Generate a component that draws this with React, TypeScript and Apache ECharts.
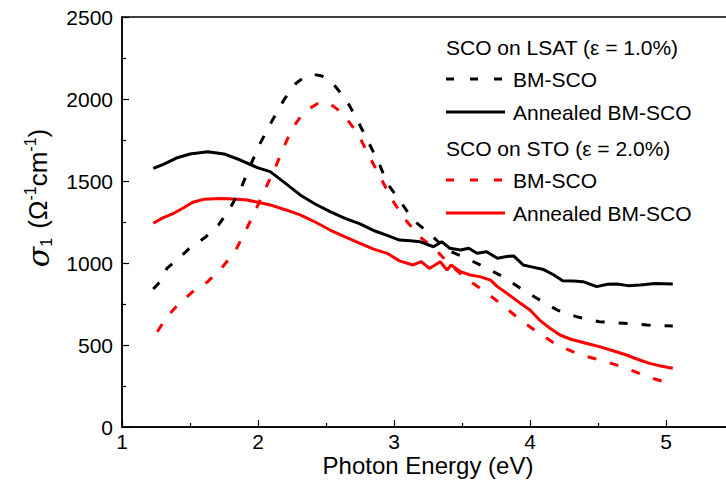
import React, { useEffect, useRef } from "react";
import * as echarts from "echarts";

// Photon energy (eV) / sigma_1 (Ω^-1 cm^-1) pairs
const lsatBm: number[][] = [
  [1.23, 841], [1.29, 896], [1.33, 967], [1.41, 1023], [1.49, 1085], [1.61, 1155],
  [1.71, 1232], [1.79, 1328], [1.87, 1445], [1.94, 1587], [2.01, 1720], [2.10, 1862],
  [2.19, 1994], [2.28, 2096], [2.35, 2140], [2.41, 2150], [2.47, 2140], [2.54, 2106],
  [2.65, 1994], [2.73, 1872], [2.81, 1740], [2.89, 1608], [2.95, 1486], [3.04, 1384],
  [3.14, 1262], [3.26, 1181], [3.39, 1079], [3.53, 1030], [3.66, 977], [3.80, 917],
  [3.93, 846], [4.05, 785], [4.20, 713], [4.34, 673], [4.51, 642], [4.69, 632],
  [4.86, 622], [5.05, 616],
];

const lsatAnnealed: number[][] = [
  [1.23, 1577], [1.30, 1600], [1.40, 1640], [1.50, 1665], [1.63, 1679], [1.75, 1665],
  [1.87, 1628], [2.00, 1580], [2.09, 1557], [2.20, 1487], [2.31, 1415], [2.42, 1360],
  [2.53, 1313], [2.64, 1272], [2.75, 1238], [2.86, 1195], [2.95, 1168], [3.04, 1140],
  [3.12, 1135], [3.19, 1130], [3.29, 1099], [3.35, 1130], [3.41, 1090], [3.49, 1079],
  [3.55, 1090], [3.61, 1059], [3.68, 1069], [3.76, 1029], [3.83, 1040], [3.88, 1043],
  [3.95, 988], [4.02, 975], [4.10, 960], [4.17, 930], [4.24, 892], [4.32, 890],
  [4.39, 886], [4.49, 856], [4.57, 870], [4.64, 872], [4.72, 862], [4.81, 866],
  [4.92, 875], [5.05, 872],
];

const stoBm: number[][] = [
  [1.26, 581], [1.33, 672], [1.41, 744], [1.52, 825], [1.63, 886], [1.73, 967],
  [1.83, 1069], [1.90, 1181], [1.98, 1318], [2.05, 1445], [2.13, 1587], [2.19, 1709],
  [2.26, 1831], [2.32, 1900], [2.38, 1943], [2.44, 1973], [2.52, 1977], [2.58, 1940],
  [2.65, 1882], [2.74, 1780], [2.82, 1648], [2.91, 1506], [2.98, 1394], [3.08, 1267],
  [3.19, 1160], [3.31, 1079], [3.40, 998], [3.53, 906], [3.66, 830], [3.79, 749],
  [3.93, 652], [4.05, 581], [4.20, 500], [4.37, 439], [4.54, 404], [4.71, 358],
  [4.88, 301], [5.05, 262],
];

const stoAnnealed: number[][] = [
  [1.23, 1242], [1.30, 1275], [1.38, 1303], [1.45, 1335], [1.52, 1370], [1.60, 1388],
  [1.72, 1394], [1.82, 1390], [1.92, 1384], [2.00, 1370], [2.09, 1354], [2.20, 1325],
  [2.31, 1293], [2.42, 1250], [2.53, 1201], [2.64, 1160], [2.75, 1120], [2.85, 1085],
  [2.95, 1059], [3.04, 1013], [3.14, 988], [3.20, 1008], [3.26, 967], [3.34, 1008],
  [3.39, 957], [3.42, 988], [3.49, 947], [3.56, 927], [3.63, 917], [3.71, 896],
  [3.76, 856], [3.83, 815], [3.93, 754], [4.00, 713], [4.07, 652], [4.15, 600],
  [4.22, 561], [4.30, 535], [4.37, 520], [4.44, 505], [4.51, 490], [4.61, 465],
  [4.71, 439], [4.80, 410], [4.88, 388], [4.96, 372], [5.05, 358],
];

const legendHeaders = ["SCO on LSAT (\u03b5 = 1.0%)", "SCO on STO (\u03b5 = 2.0%)"];
const legendItems = ["BM-SCO", "Annealed BM-SCO"];
const xTitle = "Photon Energy (eV)";

const FONT = "'Liberation Sans', Arial, Helvetica, sans-serif";
const BLACK = "#000000";
const RED = "#ff0000";
const DASH = [9, 14];

export default function App() {
  const ref = useRef<HTMLDivElement>(null);

  useEffect(() => {
    if (!ref.current) return;
    const chart = echarts.init(ref.current, undefined, { renderer: "svg" });

    const lineSeries = (name: string, data: number[][], color: string, dashed: boolean) => ({
      name,
      type: "line",
      data,
      showSymbol: false,
      symbol: "none",
      smooth: false,
      lineStyle: { color, width: 3, type: dashed ? DASH : "solid" },
      z: 3,
    });

    const legendRow = (y: number, color: string, dashed: boolean, label: string) => [
      {
        type: "line",
        shape: { x1: 446, y1: y, x2: 505, y2: y },
        style: { stroke: color, lineWidth: 3, lineDash: dashed ? [8, 16] : null },
      },
      {
        type: "text",
        x: 513,
        y,
        style: { text: label, fill: BLACK, font: `21px ${FONT}`, verticalAlign: "middle", align: "left" },
      },
    ];

    chart.setOption({
      animation: false,
      backgroundColor: "#ffffff",
      grid: {
        left: 122,
        top: 17,
        width: 680,
        height: 410,
        show: true,
        borderColor: BLACK,
        borderWidth: 1.5,
        backgroundColor: "transparent",
        containLabel: false,
        outerBoundsMode: "none",
      },
      xAxis: {
        type: "value",
        min: 1,
        max: 6,
        interval: 1,
        axisLine: { show: true, lineStyle: { color: BLACK, width: 1.5 } },
        axisTick: { show: true, inside: true, length: 7, lineStyle: { color: BLACK, width: 1.2 } },
        minorTick: { show: true, splitNumber: 2, length: 4, lineStyle: { color: BLACK, width: 1.2 } },
        splitLine: { show: false },
        axisLabel: {
          color: BLACK,
          fontSize: 21,
          lineHeight: 16,
          fontFamily: FONT,
          margin: 6,
          showMaxLabel: false,
          formatter: (v: number) => (v <= 5 ? String(v) : ""),
        },
      },
      yAxis: {
        type: "value",
        min: 0,
        max: 2500,
        interval: 500,
        axisLine: { show: true, lineStyle: { color: BLACK, width: 1.5 } },
        axisTick: { show: true, inside: true, length: 7, lineStyle: { color: BLACK, width: 1.2 } },
        minorTick: { show: true, splitNumber: 2, length: 4, lineStyle: { color: BLACK, width: 1.2 } },
        splitLine: { show: false },
        axisLabel: {
          color: BLACK,
          fontSize: 21,
          fontFamily: FONT,
          margin: 9,
          formatter: (v: number) => String(v),
        },
      },
      series: [
        lineSeries("STO BM-SCO", stoBm, RED, true),
        lineSeries("STO Annealed BM-SCO", stoAnnealed, RED, false),
        lineSeries("LSAT BM-SCO", lsatBm, BLACK, true),
        lineSeries("LSAT Annealed BM-SCO", lsatAnnealed, BLACK, false),
      ],
      graphic: [
        {
          type: "text",
          x: 428,
          y: 465,
          style: {
            text: xTitle,
            fill: BLACK,
            font: `24px ${FONT}`,
            lineHeight: 22,
            align: "center",
            verticalAlign: "middle",
          },
        },
        {
          type: "text",
          x: 38,
          y: 198,
          rotation: Math.PI / 2,
          style: {
            text: "{s|\u03c3}{sub|1} ({m|\u03a9}{sup|-1}{m|cm}{sup|-1}{m|)}",
            fill: BLACK,
            font: `26px ${FONT}`,
            align: "center",
            verticalAlign: "middle",
            rich: {
              s: { fontSize: 30, fontStyle: "italic", fontFamily: "'DejaVu Serif', serif", lineHeight: 32, verticalAlign: "middle" },
              sub: { fontSize: 16, fontFamily: FONT, verticalAlign: "bottom", lineHeight: 16, padding: [0, 2, 0, 0] },
              sup: { fontSize: 16, fontFamily: FONT, verticalAlign: "top", lineHeight: 16 },
              m: { fontSize: 26, fontFamily: FONT, lineHeight: 32 },
            },
          },
        },
        {
          type: "text",
          x: 446,
          y: 47,
          style: { text: legendHeaders[0], fill: BLACK, font: `21px ${FONT}`, verticalAlign: "middle", align: "left" },
        },
        ...legendRow(79, BLACK, true, legendItems[0]),
        ...legendRow(112, BLACK, false, legendItems[1]),
        {
          type: "text",
          x: 446,
          y: 148,
          style: { text: legendHeaders[1], fill: BLACK, font: `21px ${FONT}`, verticalAlign: "middle", align: "left" },
        },
        ...legendRow(180, RED, true, legendItems[0]),
        ...legendRow(213, RED, false, legendItems[1]),
      ],
    });

    return () => chart.dispose();
  }, []);

  return (
    <div
      ref={ref}
      style={{ position: "absolute", left: 0, top: 0, width: 726, height: 500, overflow: "hidden" }}
    />
  );
}
